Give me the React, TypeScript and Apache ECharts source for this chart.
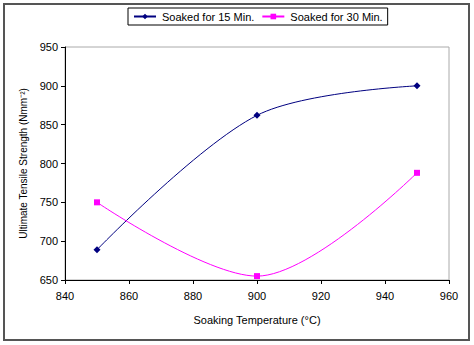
import React, { useEffect, useRef } from "react";
import * as echarts from "echarts";

const temperatures = [850, 900, 950];
const soaked15 = [689, 862, 900];
const soaked30 = [750, 655, 788];
const seriesNames = ["Soaked for 15 Min.", "Soaked for 30 Min."];

export default function App() {
  const ref = useRef<HTMLDivElement>(null);
  useEffect(() => {
    document.body.style.margin = "0";
    const chart = echarts.init(ref.current!, null, { renderer: "svg" });
    const font = "Liberation Sans, Arial, sans-serif";
    chart.setOption({
      animation: false,
      backgroundColor: "#fff",
      textStyle: { fontFamily: font },
      graphic: [
        {
          type: "rect",
          shape: { x: 4, y: 4, width: 465, height: 336 },
          style: { fill: "none", stroke: "#555", lineWidth: 2 },
          silent: true,
        },
      ],
      legend: {
        top: 8,
        left: 128,
        orient: "horizontal",
        backgroundColor: "#fff",
        borderColor: "#000",
        borderWidth: 1,
        borderRadius: 0,
        padding: [3, 5, 3, 5],
        itemGap: 7,
        itemWidth: 22,
        itemHeight: 7,
        textStyle: { fontFamily: font, fontSize: 11, color: "#000", padding: [0, 0, 0, 1] },
        data: seriesNames,
      },
      grid: {
        left: 65,
        right: 25,
        top: 47,
        bottom: 65,
        show: true,
        borderColor: "#aaa",
        borderWidth: 1,
      },
      xAxis: {
        type: "value",
        min: 840,
        max: 960,
        interval: 20,
        name: "Soaking Temperature (°C)",
        nameLocation: "middle",
        nameGap: 34,
        nameTextStyle: { fontFamily: font, fontSize: 11, color: "#000" },
        axisLine: { show: true, lineStyle: { color: "#000", width: 1 } },
        axisTick: { show: true, length: 4, lineStyle: { color: "#000" } },
        axisLabel: { fontFamily: font, fontSize: 11, color: "#000", margin: 10 },
        splitLine: { show: false },
      },
      yAxis: {
        type: "value",
        min: 650,
        max: 950,
        interval: 50,
        name: "Ultimate Tensile Strength (Nmm⁻²)",
        nameLocation: "middle",
        nameGap: 36,
        nameTextStyle: { fontFamily: font, fontSize: 10, color: "#000" },
        axisLine: { show: true, lineStyle: { color: "#000", width: 1 } },
        axisTick: { show: true, length: 4, lineStyle: { color: "#000" } },
        axisLabel: { fontFamily: font, fontSize: 11, color: "#000", margin: 7 },
        splitLine: { show: false },
      },
      series: [
        {
          name: seriesNames[0],
          type: "line",
          smooth: 0.33,
          symbol: "diamond",
          symbolSize: 7,
          data: temperatures.map((t, i) => [t, soaked15[i]]),
          lineStyle: { color: "#000080", width: 1 },
          itemStyle: { color: "#000080" },
        },
        {
          name: seriesNames[1],
          type: "line",
          smooth: 0.33,
          symbol: "rect",
          symbolSize: 6,
          data: temperatures.map((t, i) => [t, soaked30[i]]),
          lineStyle: { color: "#ff00ff", width: 1 },
          itemStyle: { color: "#ff00ff" },
        },
      ],
    });
    return () => chart.dispose();
  }, []);
  return <div ref={ref} style={{ width: 474, height: 345 }} />;
}
